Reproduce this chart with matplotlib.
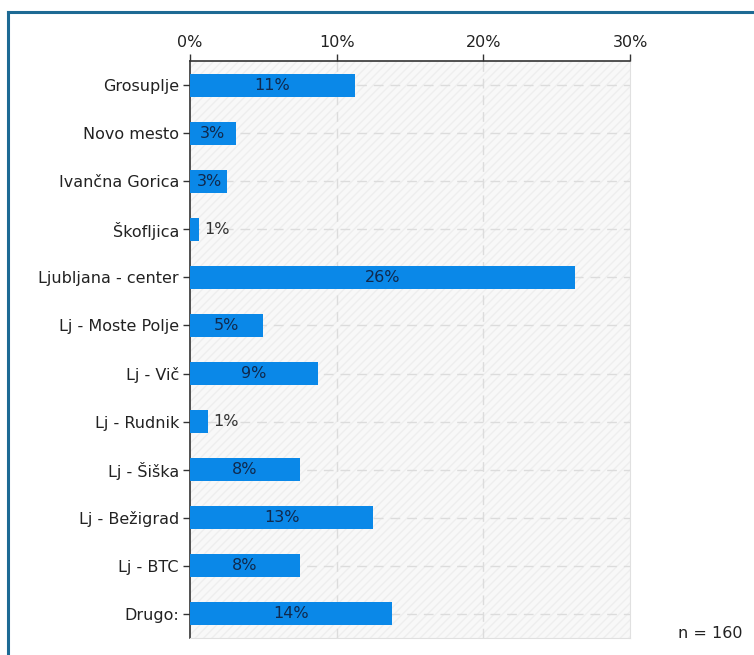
import numpy as np
import matplotlib.pyplot as plt
from matplotlib.lines import Line2D
from matplotlib.patches import Rectangle

# Podatki (n = 160)
kraji = ['Grosuplje', 'Novo mesto', 'Ivančna Gorica', 'Škofljica',
         'Ljubljana - center', 'Lj - Moste Polje', 'Lj - Vič', 'Lj - Rudnik',
         'Lj - Šiška', 'Lj - Bežigrad', 'Lj - BTC', 'Drugo:']
odstotki = [11.25, 3.125, 2.5, 0.625, 26.25, 5.0, 8.75, 1.25, 7.5, 12.5, 7.5, 13.75]
oznake = ['11%', '3%', '3%', '1%', '26%', '5%', '9%', '1%', '8%', '13%', '8%', '14%']
x_ticks = [0, 10, 20, 30]

fs = 11.5

fig = plt.figure(figsize=(7.54, 6.55), dpi=100)
ax = fig.add_axes([190 / 754, 1 - 638 / 655, 440 / 754, 577 / 655])

# ozadje z rahlimi diagonalnimi črtami
ax.set_facecolor('#f8f8f8')
ax.add_patch(Rectangle((0, 0), 1, 1, transform=ax.transAxes, facecolor='none',
                       edgecolor='#eeeeee', hatch='////', lw=0, zorder=0))

y = np.arange(len(kraji))
ax.barh(y, odstotki, height=0.48, color='#0a88e8', zorder=3)

for yi, v, t in zip(y, odstotki, oznake):
    if v >= 2:
        ax.text(max(v / 2, 1.3), yi, t, ha='center', va='center',
                fontsize=fs, color='#10294d', zorder=4)
    else:
        ax.text(v + 0.35, yi, t, ha='left', va='center', fontsize=fs,
                color='#333333', zorder=4)

ax.set_xlim(0, 30)
ax.set_ylim(len(kraji) - 0.5, -0.5)
ax.set_yticks(y)
ax.set_yticklabels(kraji, fontsize=fs, color='#222222')
ax.set_xticks(x_ticks)
ax.set_xticklabels([f'{t}%' for t in x_ticks], fontsize=fs, color='#222222')
ax.xaxis.tick_top()
ax.tick_params(axis='x', direction='out', length=5, width=1, color='#333333', pad=3)
ax.tick_params(axis='y', direction='out', length=5, width=1, color='#333333', pad=3)

for xv in x_ticks[1:3]:
    ax.axvline(xv, color='#dcdcdc', lw=1, ls=(0, (7, 5)), zorder=1)
for yi in y:
    ax.axhline(yi, color='#dcdcdc', lw=1, ls=(0, (7, 5)), zorder=1)

ax.spines['top'].set_color('#333333')
ax.spines['left'].set_color('#333333')
ax.spines['top'].set_linewidth(1.2)
ax.spines['left'].set_linewidth(1.2)
ax.spines['right'].set_color('#e0e0e0')
ax.spines['bottom'].set_color('#e0e0e0')

fig.text(742 / 754, 1 - 633 / 655, 'n = 160', ha='right', va='center',
         fontsize=fs, color='#222222')

# okvir
fig.add_artist(Line2D([8 / 754, 8 / 754], [0, 1 - 12 / 655], color='#1d6a94', lw=2.2))
fig.add_artist(Line2D([8 / 754, 1], [1 - 12 / 655, 1 - 12 / 655], color='#1d6a94', lw=2.2))

fig.savefig('out.png', dpi=100)
